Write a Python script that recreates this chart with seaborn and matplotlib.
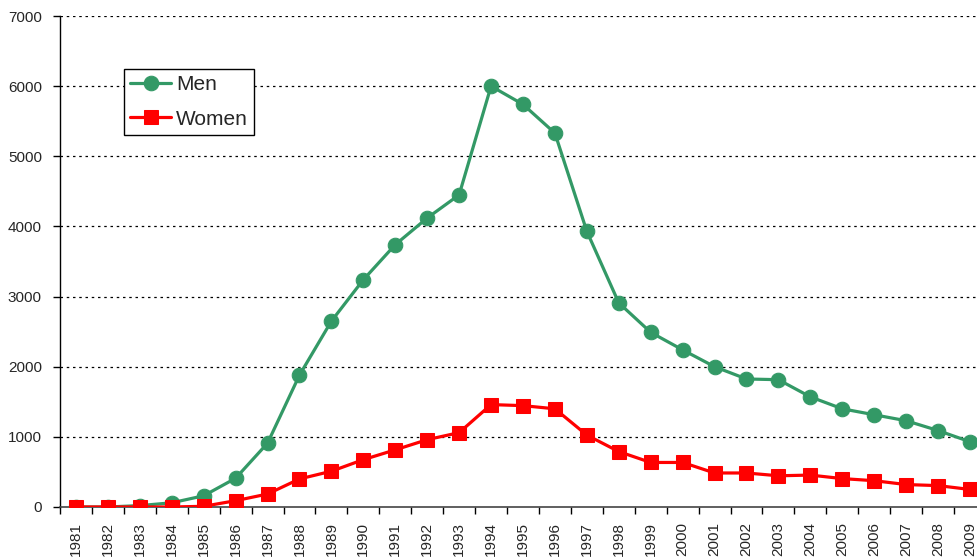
import matplotlib
matplotlib.use("Agg")
import matplotlib.pyplot as plt
import seaborn as sns
import pandas as pd
import numpy as np
from matplotlib.ticker import FixedLocator

years = [1981, 1982, 1983, 1984, 1985, 1986, 1987, 1988, 1989, 1990,
         1991, 1992, 1993, 1994, 1995, 1996, 1997, 1998, 1999, 2000,
         2001, 2002, 2003, 2004, 2005, 2006, 2007, 2008, 2009]
men = [0, 0, 20, 60, 160, 410, 910, 1880, 2650, 3240,
       3740, 4120, 4450, 6000, 5740, 5330, 3930, 2910, 2490, 2240,
       2000, 1825, 1815, 1570, 1400, 1315, 1230, 1090, 930]
women = [0, 0, 0, 0, 10, 90, 185, 400, 510, 675,
         815, 960, 1060, 1460, 1445, 1400, 1025, 790, 635, 635,
         485, 485, 445, 455, 405, 375, 320, 305, 250]
y_ticks = [0, 1000, 2000, 3000, 4000, 5000, 6000, 7000]

sns.set_style("white")
plt.rcParams['font.family'] = ['Liberation Sans', 'DejaVu Sans']

W, H = 978, 559
fig = plt.figure(figsize=(W / 100, H / 100), dpi=100)
left_px, right_px, top_px, bottom_px = 60, 60 + 29 * 31.93, 16, 507
ax = fig.add_axes([left_px / W, (H - bottom_px) / H,
                   (right_px - left_px) / W, (bottom_px - top_px) / H])

idx = np.arange(len(years))
df = pd.DataFrame({"idx": idx, "Men": men, "Women": women})

sns.lineplot(data=df, x="idx", y="Men", ax=ax, color="#339966", lw=2.3,
             marker="o", markersize=10.5, markeredgecolor="#339966",
             label="Men", zorder=3)
sns.lineplot(data=df, x="idx", y="Women", ax=ax, color="#ff0000", lw=2.3,
             marker="s", markersize=9.5, markeredgecolor="#ff0000",
             label="Women", zorder=4)

ax.set_xlim(-0.5, len(years) - 0.5)
ax.set_ylim(0, 7000)
ax.set_xticks(idx)
ax.set_xticklabels([str(y) for y in years], rotation=90, fontsize=11)
ax.xaxis.set_minor_locator(FixedLocator(np.arange(-0.5, len(years), 1.0)))
ax.tick_params(axis='x', which='major', length=0, pad=11)
ax.tick_params(axis='x', which='minor', length=5, width=1, color='black',
               direction='out', bottom=True)
ax.set_yticks(y_ticks)
ax.set_yticklabels([str(v) for v in y_ticks], fontsize=11)
ax.tick_params(axis='y', length=5, width=1, color='black', direction='out',
               left=True, pad=8)
ax.set_xlabel("")
ax.set_ylabel("")

for v in y_ticks[1:]:
    ax.axhline(v, color='black', lw=0.9, ls=(0, (2, 3)), zorder=1)

for s in ['top', 'right']:
    ax.spines[s].set_visible(False)
ax.spines['left'].set_color('black')
ax.spines['left'].set_linewidth(1)
ax.spines['bottom'].set_color('#444444')
ax.spines['bottom'].set_linewidth(1.2)

leg = ax.legend(loc='upper left',
                bbox_to_anchor=((124 - left_px) / (right_px - left_px),
                                (bottom_px - 69) / (bottom_px - top_px)),
                borderaxespad=0, fancybox=False, framealpha=1,
                edgecolor='black', fontsize=15, handlelength=1.95,
                handletextpad=0.25, labelspacing=0.74, borderpad=0.3)
leg.get_frame().set_linewidth(1)

fig.savefig("out.png", dpi=100)
